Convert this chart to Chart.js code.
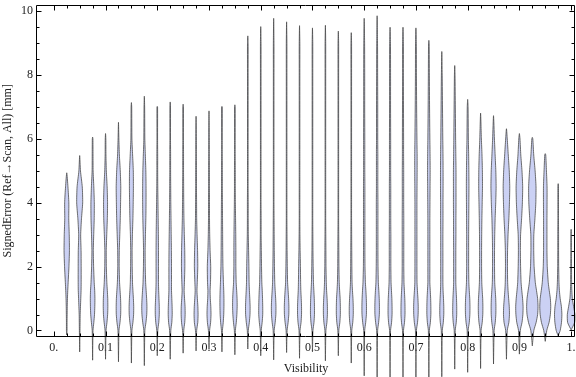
<!DOCTYPE html>
<html><head><meta charset="utf-8">
<script src="https://cdn.jsdelivr.net/npm/chart.js@4/dist/chart.umd.min.js"></script>
<style>html,body{margin:0;padding:0;background:#fff}#wrap{width:576px;height:377px;position:relative}</style>
</head><body><div id="wrap"><canvas id="c" width="576" height="377"></canvas></div>
<script>
// ---- data ----
const visibility = [0.025,0.05,0.075,0.1,0.125,0.15,0.175,0.2,0.225,0.25,0.275,0.3,0.325,0.35,0.375,0.4,0.425,0.45,0.475,0.5,
  0.525,0.55,0.575,0.6,0.625,0.65,0.675,0.7,0.725,0.75,0.775,0.8,0.825,0.85,0.875,0.9,0.925,0.95,0.975,1.0];
const errMin = [-0.14,-0.67,-0.93,-0.9,-0.98,-1.02,-1.1,-0.79,-0.9,-0.71,-0.64,-0.58,-0.67,-0.76,-0.58,-0.79,-0.92,-0.69,-0.87,-0.67,
  -0.95,-0.79,-1.02,-1.42,-1.5,-1.5,-1.5,-1.5,-1.5,-1.45,-1.21,-1.31,-1.19,-1.05,-0.9,-0.74,-0.48,-0.34,-0.17,0.02];
const errMax = [4.94,5.48,6.06,6.17,6.52,7.14,7.34,7.02,7.16,7.09,6.71,6.88,7.02,7.07,9.23,9.52,9.78,9.67,9.55,9.48,
  9.56,9.38,9.33,9.78,9.86,9.5,9.5,9.48,9.09,8.74,8.3,7.24,6.81,6.73,6.32,6.17,6.05,5.54,4.6,3.17];
const levels = [0,0.25,0.5,0.75,1,1.25,1.5,2,2.5,3,3.5,4,4.5,5,5.5,6,7,8,9];
const density = [
  [0.3,0.3,0.4,0.5,0.7,1.0,1.4,2.2,2.7,2.5,2.0,2.1,1.2,0,0,0,0,0,0],
  [0.3,0.4,0.5,0.8,1.1,1.4,1.5,1.5,1.4,1.0,1.8,3.0,2.6,0.8,0,0,0,0,0],
  [0.4,1.2,1.9,2.2,2.3,2.1,1.6,1.0,0.7,1.1,1.6,1.7,1.2,0.5,0.4,0.3,0,0,0],
  [0.5,1.4,2.1,2.3,2.2,1.8,1.3,0.8,0.7,1.2,1.8,2.0,1.6,0.8,0.4,0.3,0,0,0],
  [0.5,1.5,2.2,2.3,2.1,1.6,1.1,0.7,0.8,1.3,1.8,2.1,2.3,1.8,0.9,0.4,0,0,0],
  [0.5,1.5,2.2,2.3,2.0,1.5,1.1,0.8,0.7,1.0,1.5,1.8,2.0,1.9,1.2,0.5,0.3,0,0],
  [0.5,1.6,2.4,2.6,2.3,1.8,1.3,0.9,0.8,1.1,1.5,1.7,1.7,1.5,1.0,0.5,0.3,0,0],
  [0.5,1.5,2.0,2.0,1.7,1.4,1.2,1.2,1.2,1.1,0.9,0.7,0.5,0.4,0.4,0.3,0.3,0,0],
  [0.6,1.6,2.0,1.9,1.6,1.3,1.3,1.3,1.2,1.0,0.8,0.6,0.5,0.4,0.4,0.3,0.3,0,0],
  [0.6,1.6,2.0,1.9,1.4,1.0,1.3,1.7,1.6,1.2,0.8,0.6,0.5,0.4,0.4,0.3,0.3,0,0],
  [0.6,1.7,2.0,1.8,1.3,0.9,1.2,1.7,1.5,1.0,0.6,0.5,0.4,0.4,0.3,0.3,0,0,0],
  [0.6,1.6,2.0,1.8,1.3,1.1,1.5,1.7,1.1,0.7,0.5,0.5,0.4,0.4,0.3,0.3,0,0,0],
  [0.5,1.3,1.8,2.0,2.0,1.8,1.5,1.0,0.8,0.7,0.6,0.5,0.4,0.4,0.3,0.3,0.3,0,0],
  [0.5,1.4,2.0,2.3,2.2,1.8,1.3,1.0,1.0,0.9,0.7,0.5,0.4,0.4,0.3,0.3,0.3,0,0],
  [0.5,1.5,2.2,2.3,2.0,1.6,1.3,1.1,0.8,0.5,0.4,0.4,0.3,0.3,0.3,0.3,0.3,0.3,0.3],
  [0.5,1.4,2.0,2.0,1.8,1.5,1.1,0.8,0.6,0.4,0.4,0.3,0.3,0.3,0.3,0.3,0.3,0.3,0.3],
  [0.5,1.5,2.2,2.3,2.0,1.5,1.1,0.8,0.6,0.5,0.4,0.3,0.3,0.3,0.3,0.3,0.3,0.3,0.3],
  [0.5,1.5,2.2,2.3,2.0,1.5,1.0,0.7,0.5,0.4,0.3,0.3,0.3,0.3,0.3,0.3,0.3,0.3,0.3],
  [0.5,1.5,2.0,2.0,1.7,1.3,1.1,0.9,0.6,0.4,0.3,0.3,0.3,0.3,0.3,0.3,0.3,0.3,0.3],
  [0.5,1.5,2.0,2.0,1.8,1.4,1.0,0.7,0.5,0.4,0.3,0.3,0.3,0.3,0.3,0.3,0.3,0.3,0.3],
  [0.5,1.5,2.0,2.0,1.7,1.2,0.9,0.6,0.5,0.4,0.3,0.3,0.3,0.3,0.3,0.3,0.3,0.3,0.3],
  [0.5,1.5,2.0,2.0,1.8,1.3,0.9,0.6,0.5,0.4,0.3,0.3,0.3,0.3,0.3,0.3,0.3,0.3,0.3],
  [0.5,1.5,2.0,2.0,1.7,1.2,0.8,0.6,0.5,0.4,0.3,0.3,0.3,0.3,0.3,0.3,0.3,0.3,0.3],
  [0.5,1.5,2.2,2.3,2.1,1.7,1.2,0.8,0.7,0.7,0.7,0.7,0.7,0.6,0.6,0.6,0.5,0.5,0.4],
  [0.5,1.5,2.2,2.3,2.1,1.7,1.2,0.9,0.8,0.8,0.8,0.8,0.7,0.7,0.7,0.6,0.6,0.5,0.4],
  [0.5,1.5,2.0,2.0,1.8,1.4,1.0,0.8,0.8,0.8,0.7,0.7,0.7,0.6,0.6,0.6,0.5,0.5,0.4],
  [0.5,1.5,2.0,2.0,1.8,1.4,1.0,0.8,0.8,0.8,0.8,0.7,0.7,0.7,0.6,0.6,0.5,0.4,0.4],
  [0.5,1.6,2.2,2.3,2.0,1.5,1.1,1.0,1.0,1.0,1.0,1.0,1.1,1.2,1.2,1.0,0.7,0.5,0.4],
  [0.5,1.5,2.0,2.0,1.8,1.4,1.0,1.0,1.0,1.0,1.0,1.1,1.2,1.3,1.2,1.0,0.7,0.5,0.3],
  [0.5,1.5,2.0,2.0,1.7,1.3,1.1,1.1,1.1,1.1,1.2,1.2,1.3,1.3,1.2,1.0,0.7,0.4,0],
  [0.5,1.5,2.0,2.0,1.8,1.4,1.1,1.1,1.1,1.2,1.2,1.3,1.3,1.3,1.1,0.9,0.6,0.3,0],
  [0.5,1.6,2.2,2.3,2.1,1.6,1.2,1.0,1.0,1.0,1.1,1.2,1.3,1.2,1.0,0.7,0.4,0,0],
  [0.5,1.6,2.2,2.3,2.1,1.6,1.2,1.0,1.0,1.1,1.3,1.6,1.9,1.8,1.4,0.8,0,0,0],
  [0.6,1.7,2.3,2.4,2.2,1.7,1.2,1.0,1.0,1.2,1.6,2.2,2.6,2.3,1.6,0.9,0,0,0],
  [0.8,2.4,3.0,2.8,2.2,1.6,1.2,1.0,1.1,1.6,2.4,3.0,3.3,2.8,1.8,0.8,0,0,0],
  [0.9,2.6,3.5,3.7,3.2,2.4,1.7,1.2,1.0,1.2,2.2,3.0,3.3,2.6,1.4,0.6,0,0,0],
  [1.5,3.8,5.3,5.7,5.3,4.2,3.0,1.8,1.4,1.5,2.6,3.5,3.7,2.8,1.4,0.5,0,0,0],
  [1.5,3.8,5.1,5.5,5.1,4.0,3.0,2.0,1.7,1.7,1.7,1.8,1.8,1.2,0.5,0,0,0,0],
  [2.0,3.3,3.7,3.2,2.0,1.2,0.8,0.5,0.4,0.4,0.3,0.3,0.3,0,0,0,0,0,0],
  [0,3.5,3.8,2.5,1.2,0.7,0.5,0.4,0.3,0.3,0,0,0,0,0,0,0,0,0]
];
const xTickValues = [0,0.1,0.2,0.3,0.4,0.5,0.6,0.7,0.8,0.9,1];
const xTickLabels = ["0.","0.1","0.2","0.3","0.4","0.5","0.6","0.7","0.8","0.9","1."];
const yTickValues = [0,2,4,6,8,10];
const yTickLabels = ["0","2","4","6","8","10"];

// ---- layout / style constants ----
const X_MIN = -0.0325, X_MAX = 1.0075, Y_MIN = -0.204, Y_MAX = 10.213;
const HALF_WIDTH_SCALE = 0.00193;
const FONT = {family: "'Liberation Serif','Times New Roman',serif", size: 12};
const TEXT = '#222';

function violinPoints(i) {
  const c = visibility[i], lo = errMin[i], hi = errMax[i], d = density[i];
  const left = [], right = [];
  for (let j = 0; j < levels.length; j++) {
    const y = levels[j];
    if (y <= lo || y >= hi) continue;
    const w = d[j] * HALF_WIDTH_SCALE;
    left.push({x: c - w, y});
    right.push({x: c + w, y});
  }
  return [{x: c, y: lo}, ...left, {x: c, y: hi}, ...right.reverse(), {x: c, y: lo}];
}

const datasets = visibility.map((v, i) => ({
  data: violinPoints(i),
  borderColor: 'rgba(70,70,70,0.78)',
  backgroundColor: 'rgb(203,209,244)',
  borderWidth: 1,
  pointRadius: 0,
  fill: 'shape',
  tension: 0.2,
  capBezierPoints: false,
  clip: false
}));

const framePlugin = {
  id: 'frame',
  afterDatasetsDraw(chart) {
    const {ctx, chartArea: a, scales: {x, y}} = chart;
    ctx.save();
    ctx.strokeStyle = '#000';
    ctx.lineWidth = 1;
    const L = Math.round(a.left) - 0.5, R = Math.round(a.right) - 0.5;
    const T = Math.round(a.top) + 0.5, B = Math.round(a.bottom) - 0.5;
    ctx.beginPath();
    ctx.rect(L, T, R - L, B - T);
    for (let k = 0; k <= 40; k++) {
      const v = k * 0.025;
      const px = Math.round(x.getPixelForValue(v)) + 0.5;
      const len = (k % 4 === 0) ? 5 : 3;
      ctx.moveTo(px, B); ctx.lineTo(px, B - len);
      ctx.moveTo(px, T); ctx.lineTo(px, T + len);
    }
    for (let k = 0; k <= 20; k++) {
      const v = k * 0.5;
      const py = Math.round(y.getPixelForValue(v)) + 0.5;
      const len = (k % 4 === 0) ? 5 : 3;
      ctx.moveTo(L, py); ctx.lineTo(L + len, py);
      ctx.moveTo(R, py); ctx.lineTo(R - len, py);
    }
    ctx.stroke();
    ctx.restore();
  }
};

new Chart(document.getElementById('c'), {
  type: 'line',
  data: {datasets},
  options: {
    responsive: false,
    animation: false,
    devicePixelRatio: 1,
    layout: {padding: {top: 4.5, right: 1, left: 0, bottom: 0}},
    plugins: {legend: {display: false}, tooltip: {enabled: false}},
    scales: {
      x: {
        type: 'linear', min: X_MIN, max: X_MAX,
        afterBuildTicks: s => { s.ticks = xTickValues.map(v => ({value: v})); },
        afterFit: s => { s.height = 40; s.paddingLeft = 0; s.paddingRight = 0; },
        ticks: {
          callback: (v) => { const i = xTickValues.findIndex(t => Math.abs(t - v) < 1e-9); return i >= 0 ? xTickLabels[i] : ''; },
          font: FONT, color: TEXT, padding: 4, maxRotation: 0, autoSkip: false
        },
        grid: {display: false, drawTicks: false},
        border: {display: false},
        title: {display: true, text: 'Visibility', font: FONT, color: TEXT, padding: {top: 0, bottom: 1}}
      },
      y: {
        type: 'linear', min: Y_MIN, max: Y_MAX,
        afterBuildTicks: s => { s.ticks = yTickValues.map(v => ({value: v})); },
        afterFit: s => { s.width = 37; s.paddingTop = 0; s.paddingBottom = 0; },
        ticks: {
          callback: (v) => { const i = yTickValues.findIndex(t => Math.abs(t - v) < 1e-9); return i >= 0 ? yTickLabels[i] : ''; },
          font: FONT, color: TEXT, padding: 4, autoSkip: false
        },
        grid: {display: false, drawTicks: false},
        border: {display: false},
        title: {display: true, text: 'SignedError (Ref\u2192Scan, All) [mm]', font: FONT, color: TEXT, padding: {top: 1, bottom: 0}}
      }
    }
  },
  plugins: [framePlugin]
});
</script></body></html>
